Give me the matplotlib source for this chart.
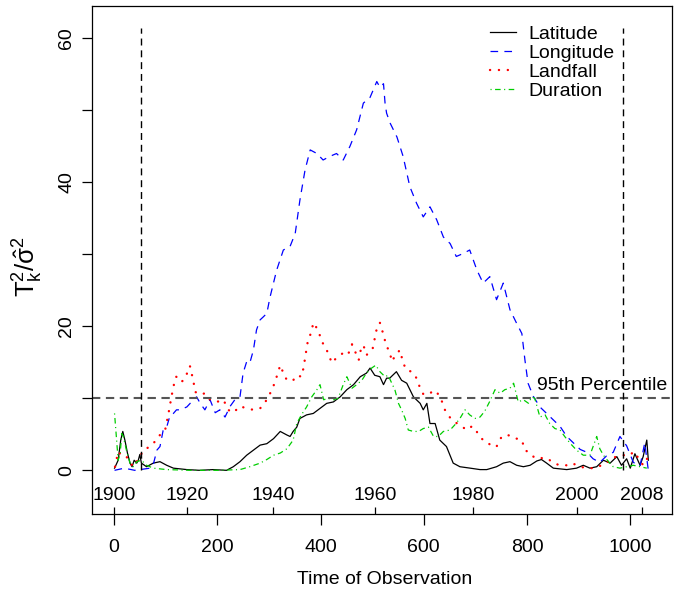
import matplotlib
matplotlib.use("Agg")
import matplotlib.pyplot as plt

plt.rcParams['font.family'] = ['Liberation Sans', 'DejaVu Sans']
plt.rcParams['font.size'] = 14
plt.rcParams['mathtext.fontset'] = 'custom'
plt.rcParams['mathtext.rm'] = 'Liberation Sans'
plt.rcParams['mathtext.it'] = 'Liberation Sans:italic'
plt.rcParams['lines.scale_dashes'] = False

# Latitude (black, solid)
lat_x = [1, 8, 13, 17, 21, 26, 31, 35, 39, 44, 47, 50, 53, 63, 76, 89, 102, 115, 141, 166,
         192, 218, 231, 244, 257, 270, 283, 296, 309, 322, 335, 341, 347, 354, 360, 373, 386, 399, 412, 425,
         438, 451, 464, 477, 489, 496, 505, 515, 522, 528, 534, 547, 557, 567, 580, 593, 599, 606, 612, 622,
         631, 644, 657, 670, 690, 709, 722, 741, 754, 767, 780, 793, 806, 819, 828, 838, 851, 877, 896, 909,
         922, 935, 948, 961, 974, 983, 993, 1000, 1009, 1019, 1025, 1032, 1035]
lat_y = [0.3, 1.4, 4.2, 5.4, 4.2, 2.4, 1.0, 0.5, 1.4, 1.0, 1.4, 2.2, 1.0, 0.5, 1.0, 1.2, 0.7, 0.3, 0.1, 0.0,
         0.1, 0.0, 0.5, 1.2, 2.1, 2.8, 3.5, 3.7, 4.4, 5.4, 4.9, 4.7, 5.4, 6.0, 7.2, 7.7, 7.9, 8.6, 9.3, 9.5,
         10.2, 11.2, 11.9, 13.0, 13.5, 14.2, 13.2, 13.0, 11.9, 12.8, 12.8, 13.7, 12.5, 12.1, 10.2, 9.3, 8.4, 9.3, 6.5, 6.5,
         4.2, 3.3, 1.0, 0.5, 0.3, 0.1, 0.1, 0.5, 1.0, 1.2, 0.7, 0.5, 0.7, 1.3, 1.5, 1.0, 0.3, 0.1, 0.3, 0.7,
         0.3, 0.5, 1.4, 1.0, 1.9, 0.7, 1.6, 0.3, 2.3, 0.7, 1.9, 4.2, 1.4]

# Longitude (blue, dashed)
lon_x = [1, 20, 40, 60, 70, 76, 83, 89, 95, 102, 108, 115, 121, 128, 141, 154, 160, 167, 176, 186,
         196, 205, 215, 225, 234, 244, 250, 257, 263, 270, 276, 283, 289, 296, 302, 315, 328, 341, 351, 360,
         370, 380, 393, 405, 418, 431, 444, 457, 470, 483, 496, 509, 515, 522, 525, 528, 535, 548, 560, 573,
         586, 599, 612, 625, 638, 651, 663, 676, 689, 703, 715, 728, 741, 754, 767, 780, 790, 796, 802, 812,
         825, 838, 851, 864, 877, 890, 903, 916, 928, 941, 954, 967, 980, 993, 1006, 1019, 1028, 1035]
lon_y = [0.0, 0.3, 0.0, 0.2, 0.3, 0.8, 2.8, 3.3, 5.5, 6.0, 7.5, 7.9, 8.4, 8.4, 8.8, 9.8, 10.2, 9.3, 8.4, 9.8,
         8.0, 8.4, 7.4, 8.9, 9.8, 10.2, 13.5, 15.1, 14.9, 16.7, 19.5, 20.9, 21.3, 21.8, 24.0, 27.8, 30.6, 31.1, 32.9, 37.5,
         41.7, 44.5, 44.0, 43.1, 43.6, 44.0, 43.1, 45.0, 47.3, 51.0, 51.8, 54.0, 53.2, 53.7, 51.0, 49.6, 48.2, 46.3, 43.6, 39.4,
         37.1, 35.2, 36.6, 34.8, 32.4, 31.5, 29.7, 30.1, 30.6, 27.8, 26.0, 26.9, 23.7, 26.0, 22.3, 20.4, 19.0, 15.3, 12.1, 10.3,
         8.8, 7.9, 7.0, 6.1, 4.7, 3.8, 2.9, 2.5, 1.6, 1.1, 2.0, 2.5, 4.7, 3.4, 1.1, 0.6, 3.8, 0.0]

# Landfall (red, dotted)
land_x = [2, 8, 17, 24, 37, 50, 57, 67, 76, 86, 92, 99, 105, 112, 116, 120, 128, 131, 138, 144,
          147, 154, 157, 167, 176, 186, 199, 212, 221, 231, 244, 257, 270, 283, 296, 306, 312, 322, 328, 335,
          347, 354, 363, 367, 373, 376, 382, 386, 396, 402, 409, 415, 422, 428, 438, 448, 454, 461, 467, 474,
          477, 483, 489, 501, 509, 515, 520, 528, 534, 538, 547, 554, 560, 567, 577, 586, 593, 599, 609, 619,
          625, 634, 641, 650, 660, 670, 683, 693, 699, 706, 715, 722, 732, 741, 751, 760, 770, 780, 790, 796,
          806, 815, 828, 839, 851, 864, 877, 887, 903, 916, 928, 945, 954, 964, 974, 987, 1000, 1006, 1016, 1025,
          1035]
land_y = [0.5, 2.6, 1.9, 1.9, 0.5, 1.9, 2.8, 3.2, 3.7, 4.7, 5.1, 5.6, 7.7, 10.5, 11.9, 13.0, 12.8, 12.3, 12.8, 14.0,
          14.5, 12.3, 10.9, 10.5, 10.7, 9.8, 9.5, 9.8, 8.4, 8.0, 8.9, 8.6, 8.4, 8.6, 9.8, 11.2, 12.3, 14.6, 13.5, 12.5,
          12.5, 13.2, 13.0, 14.2, 16.9, 18.2, 19.1, 20.5, 19.4, 17.9, 17.2, 16.2, 14.9, 15.4, 16.0, 16.5, 16.2, 17.5, 16.5, 15.3,
          16.5, 17.4, 16.0, 16.9, 19.7, 20.5, 19.3, 17.2, 16.5, 15.1, 16.2, 16.7, 14.9, 13.9, 13.7, 12.8, 11.4, 10.6, 10.5, 11.1,
          10.9, 9.8, 8.4, 7.4, 6.7, 6.3, 5.6, 6.1, 5.9, 4.9, 4.2, 4.0, 3.3, 3.3, 4.7, 4.9, 4.8, 4.4, 4.2, 2.8,
          2.4, 1.7, 1.7, 1.7, 1.0, 0.7, 0.7, 1.0, 0.5, 0.3, 0.3, 0.7, 1.0, 1.7, 1.9, 2.1, 2.1, 2.6, 1.7, 0.7,
          1.9]

# Duration (green, dot-dash)
dur_x = [1, 5, 8, 12, 15, 18, 24, 31, 37, 44, 53, 63, 76, 102, 150, 200, 244, 263, 283, 296,
         309, 322, 335, 347, 354, 363, 373, 383, 393, 399, 406, 415, 425, 434, 444, 451, 461, 470, 480, 489,
         499, 507, 515, 525, 531, 538, 544, 551, 557, 564, 570, 580, 590, 599, 609, 619, 628, 638, 651, 660,
         670, 680, 689, 699, 709, 718, 728, 738, 748, 757, 767, 774, 783, 793, 803, 809, 815, 825, 835, 844,
         854, 864, 873, 883, 896, 909, 922, 935, 941, 948, 958, 967, 980, 993, 1006, 1019, 1032]
dur_y = [7.9, 4.2, 1.4, 2.4, 5.1, 4.7, 2.8, 1.0, 0.5, 1.2, 1.4, 0.7, 0.3, 0.1, 0.0, 0.0, 0.1, 0.5, 1.0, 1.5,
         2.1, 2.4, 3.0, 4.2, 6.5, 7.7, 8.8, 10.2, 11.2, 11.9, 9.8, 10.0, 9.8, 10.0, 11.9, 13.0, 11.4, 11.9, 12.5, 13.5,
         14.2, 14.6, 13.7, 13.0, 13.2, 12.1, 11.2, 9.3, 8.4, 7.2, 5.6, 5.4, 5.4, 5.8, 6.0, 4.7, 4.7, 5.4, 5.6, 6.3,
         7.2, 8.4, 7.7, 7.2, 7.4, 8.2, 9.6, 11.2, 10.7, 11.2, 11.4, 12.1, 9.5, 9.8, 9.3, 10.2, 10.0, 7.4, 7.7, 6.5,
         5.8, 5.6, 4.7, 3.8, 2.8, 2.1, 2.1, 4.7, 3.0, 2.1, 1.2, 0.5, 0.3, 0.5, 0.7, 0.5, 0.3]

cutoff = 10
vline_x = [52, 986]
year_x = [0, 141, 308, 506, 695, 896, 1022]
year_labels = ['1900', '1920', '1940', '1960', '1980', '2000', '2008']

fig = plt.figure(figsize=(6.83, 5.93), dpi=100)
ax = fig.add_axes([0.1343, 0.1327, 0.8491, 0.8572])

ax.plot(lat_x, lat_y, color='black', lw=0.9, label='Latitude')
ax.plot(lon_x, lon_y, color='blue', lw=0.9, dashes=(5.5, 4.5), label='Longitude')
ax.plot(land_x, land_y, color='red', lw=1.7, dashes=(0.1, 6.3), dash_capstyle='round',
        label='Landfall')
ax.plot(dur_x, dur_y, color='#00CD00', lw=0.9, dashes=(0.8, 2.5, 4, 2.5), label='Duration')

ax.axhline(cutoff, color='#555555', lw=1.5, dashes=(6, 4))
ax.vlines(vline_x, 0, 61.4, colors='black', lw=1.0, linestyles=(0, (5, 3.5)))
ax.text(818.7, 11.1, '95th Percentile', ha='left', va='baseline')

for xp, lab in zip(year_x, year_labels):
    ax.text(xp, -4.08, lab, ha='center', va='baseline')

ax.set_xlim(-43.2, 1080.2)
ax.set_ylim(-6.11, 64.49)
ax.set_xticks(range(0, 1001, 200))
ax.set_yticks(range(0, 61, 10))
ax.set_yticklabels(['0', '', '20', '', '40', '', '60'])
ax.tick_params(axis='x', direction='out', length=8, width=0.9, pad=9.5)
ax.tick_params(axis='y', direction='out', length=7.2, width=0.9, pad=4.7)
for t in ax.get_yticklabels():
    t.set_rotation(90)
    t.set_va('center')
for s in ax.spines.values():
    s.set_linewidth(0.9)

secax = ax.secondary_xaxis('bottom')
secax.set_xticks(year_x)
secax.tick_params(direction='in', length=5, width=0.9, labelbottom=False)
secax.spines['bottom'].set_visible(False)

ax.set_xlabel('Time of Observation')
ax.xaxis.label.set_va('center')
ax.xaxis.set_label_coords(0.505, -0.1273)
ax.set_ylabel(r'$\mathrm{T}_{\mathrm{k}}^{2}/\hat{\mathrm{\sigma}}^{2}$', fontsize=18.5)
ax.yaxis.label.set_va('center')
ax.yaxis.set_label_coords(-0.110, 0.487)

ax.legend(loc='upper left', bbox_to_anchor=(0.6867, 0.9615), frameon=False, borderpad=0,
          borderaxespad=0, handlelength=1.34, handletextpad=0.62, labelspacing=0.07)

fig.savefig('out.png', dpi=100)
